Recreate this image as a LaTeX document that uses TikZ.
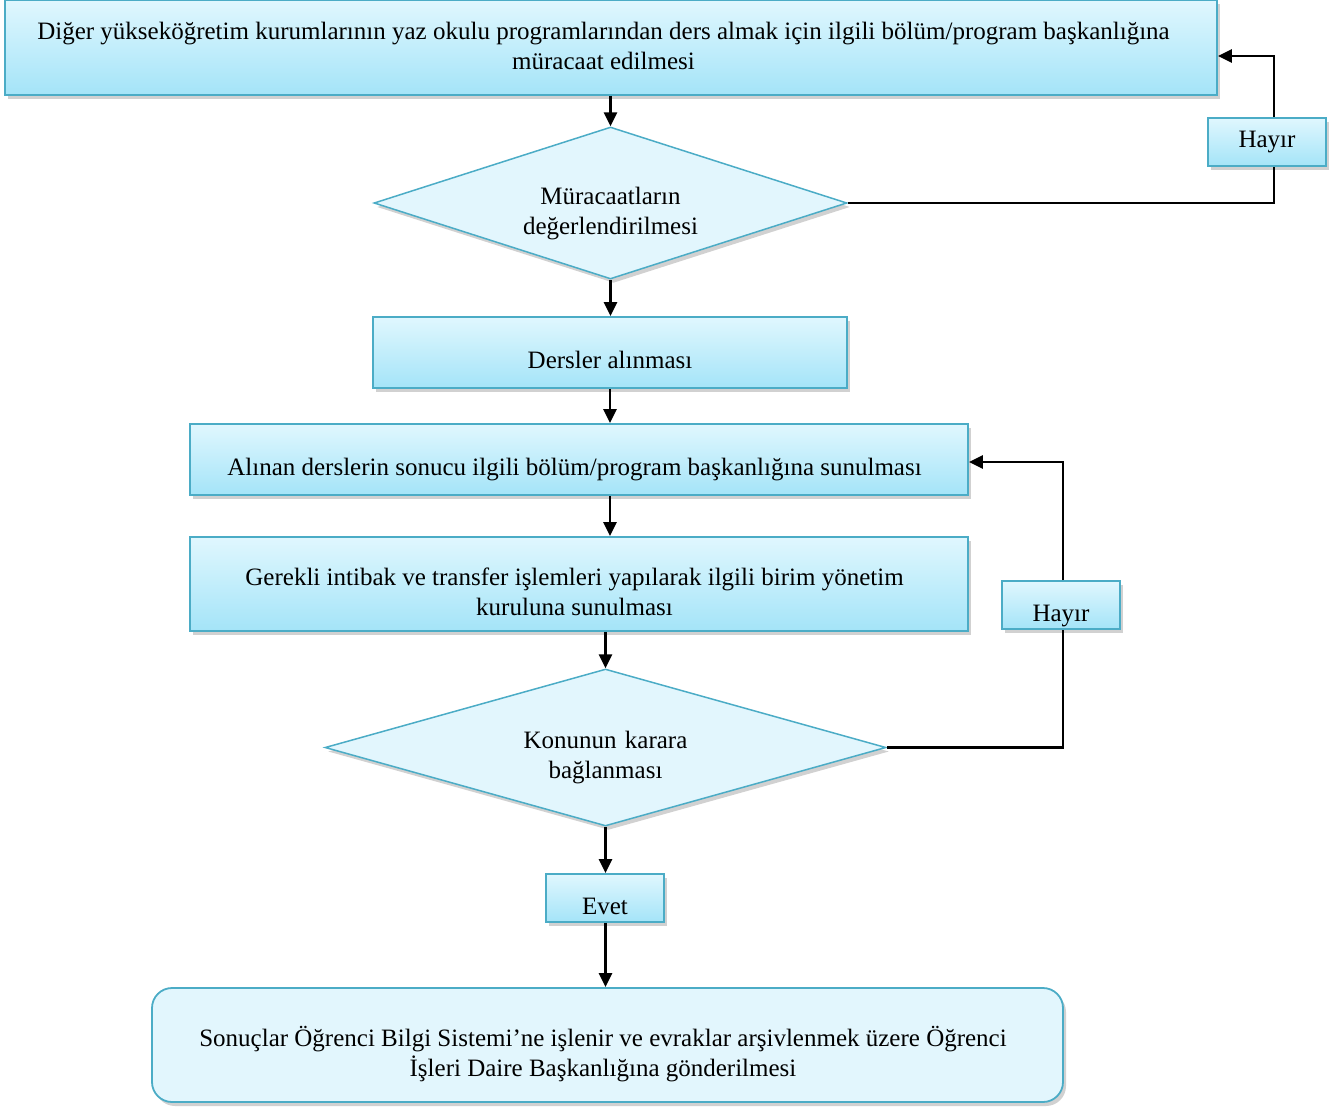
\documentclass[tikz,border=0pt]{standalone}
\usepackage{fontspec}
\setmainfont{Liberation Serif}
\usetikzlibrary{shapes.geometric,arrows.meta,shadows}
\definecolor{bordc}{HTML}{4BACC6}
\definecolor{topc}{HTML}{E0F7FE}
\definecolor{botc}{HTML}{A4E4F8}
\definecolor{flatc}{HTML}{E2F6FD}
\newcommand{\tstr}{\rule{0pt}{39pt}}
\newcommand{\bstr}{\rule[-7pt]{0pt}{0pt}}
\newcommand{\rsp}{\hspace*{9pt}}
\begin{document}
\begin{tikzpicture}[x=1pt,y=-1pt,
  font=\fontsize{25}{30}\selectfont,
  shad/.style={drop shadow={shadow xshift=3pt,shadow yshift=-4pt,opacity=0.3,fill=black!60}},
  gbox/.style={rectangle,draw=bordc,line width=1.8pt,top color=topc,bottom color=botc,
    inner sep=0pt,align=center,shad},
  dbox/.style={diamond,draw=bordc,line width=1.5pt,fill=flatc,inner sep=0pt,
    align=center,text width=200pt,shad},
  fbox/.style={rectangle,rounded corners=20pt,draw=bordc,line width=1.8pt,fill=flatc,
    inner sep=0pt,align=center,shad},
  flow/.style={line width=2.7pt,-{Triangle[length=14pt,width=13pt]}},
  conn/.style={line width=2.7pt}
]
\useasboundingbox (0,0) rectangle (1332,1106);

\node[gbox,minimum width=1212pt,minimum height=95pt] (b1) at (611,47.5)
  {Diğer yükseköğretim kurumlarının yaz okulu programlarından ders almak için ilgili bölüm/program başkanlığına\hspace*{15pt}\\müracaat edilmesi\hspace*{15pt}\rule[-4pt]{0pt}{0pt}};
\node[dbox,aspect=3.2,minimum width=473pt,minimum height=152pt] (d1) at (610.5,203)
  {\tstr Müracaatların\\değerlendirilmesi\bstr};
\node[gbox,minimum width=474pt,minimum height=71pt] (b2) at (610,352.5)
  {\tstr Dersler alınması\bstr};
\node[gbox,minimum width=778pt,minimum height=71pt] (b3) at (579,459.5)
  {\tstr Alınan derslerin sonucu ilgili bölüm/program başkanlığına sunulması\rsp\bstr};
\node[gbox,minimum width=778pt,minimum height=94pt] (b4) at (579,584)
  {\tstr Gerekli intibak ve transfer işlemleri yapılarak ilgili birim yönetim\rsp\\kuruluna sunulması\rsp\bstr};
\node[dbox,aspect=3.6,minimum width=561pt,minimum height=157pt] (d2) at (605.5,747.5)
  {\tstr Konunun karara\\bağlanması\bstr};
\node[gbox,minimum width=118pt,minimum height=48pt] (ev) at (605,898) {\tstr Evet\bstr};
\node[fbox,minimum width=911pt,minimum height=114pt] (fin) at (607.5,1045)
  {\tstr Sonuçlar Öğrenci Bilgi Sistemi’ne işlenir ve evraklar arşivlenmek üzere Öğrenci\rsp\\İşleri Daire Başkanlığına gönderilmesi\rsp\bstr};
\node[gbox,minimum width=118pt,minimum height=48pt] (h1) at (1267,142) {Hayır};
\node[gbox,minimum width=118pt,minimum height=48pt] (h2) at (1061,605) {\tstr Hayır\bstr};

\draw[flow] (d1.north |- b1.south) -- (d1.north);
\draw[flow] (d1.south) -- (b2.north -| d1.south);
\draw[flow] (b2.south) -- (b3.north -| b2.south);
\draw[flow] (b3.south -| b2.south) -- (b4.north -| b2.south);
\draw[flow] (d2.north |- b4.south) -- (d2.north);
\draw[flow] (d2.south) -- (ev.north -| d2.south);
\draw[flow] (ev.south -| d2.south) -- (fin.north -| d2.south);

\draw[conn] (d1.east) -| (h1.south -| 1274,0);
\draw[flow] (h1.north -| 1274,0) |- ([yshift=-8.5pt]b1.east);
\draw[conn] (d2.east) -| (h2.south -| 1063,0);
\draw[flow] (h2.north -| 1063,0) |- ([yshift=-2.5pt]b3.east);
\end{tikzpicture}
\end{document}
